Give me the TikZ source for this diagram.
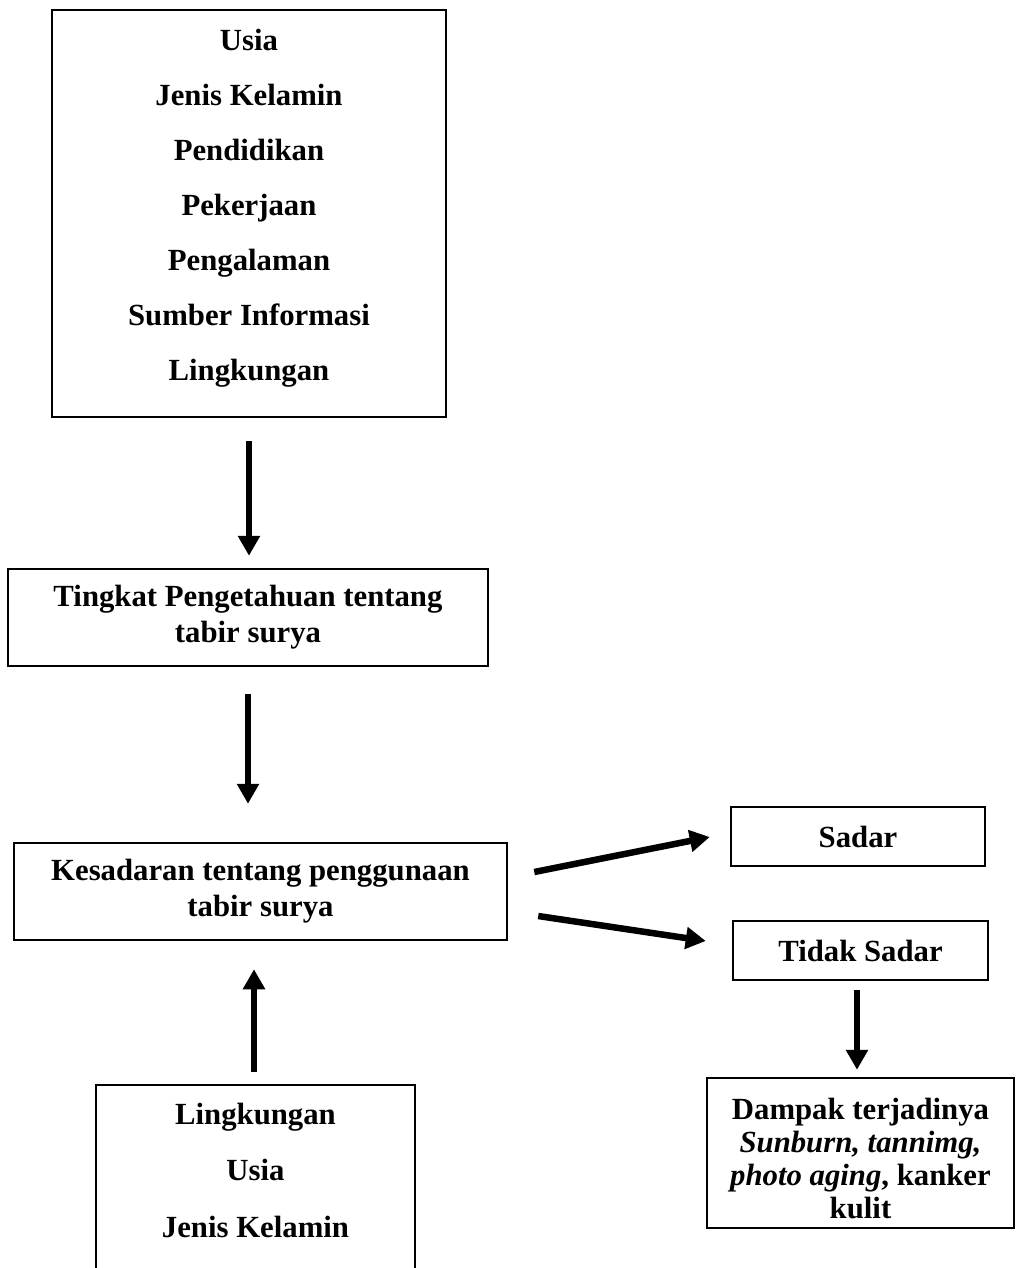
\documentclass[tikz,border=0pt]{standalone}
\usepackage{fontspec}
\setmainfont{Liberation Serif}
\usetikzlibrary{arrows.meta,calc}
\begin{document}
\begin{tikzpicture}[x=0.4pt,y=-0.4pt,
  box/.style={draw, line width=1pt, inner sep=0pt, align=center,
    font=\fontsize{12.3}{14.3}\selectfont\bfseries},
  lbl/.style={inner sep=0pt, align=center, font=\fontsize{12.3}{14}\selectfont\bfseries},
  arr/.style={line width=2.6pt, -{Triangle[length=8pt,width=8.5pt]}}]
\useasboundingbox (0,0) rectangle (1017,1268);
\clip (0,0) rectangle (1017,1268);

% top box
\node[box, minimum width=394*0.4pt, minimum height=407*0.4pt] (b1) at (249,213.5) {};
\node[lbl] (t1) at (249,208) {Usia\\[8pt]Jenis Kelamin\\[8pt]Pendidikan\\[8pt]Pekerjaan\\[8pt]Pengalaman\\[8pt]Sumber Informasi\\[8pt]Lingkungan};

% knowledge box
\node[box, minimum width=480*0.4pt, minimum height=97*0.4pt] (b2) at (248,617.5) {Tingkat Pengetahuan tentang\\tabir surya};

% awareness box
\node[box, minimum width=493*0.4pt, minimum height=97*0.4pt] (b3) at (260.5,891.5) {Kesadaran tentang penggunaan\\tabir surya};

% bottom box (cut off)
\node[box, minimum width=319*0.4pt, minimum height=260*0.4pt] (b4) at (255.5,1215) {};
\node[lbl] (t4) at (255.5,1170) {Lingkungan\\[8.6pt]Usia\\[8.6pt]Jenis Kelamin};

% Sadar / Tidak Sadar
\node[box, minimum width=254*0.4pt, minimum height=59*0.4pt] (s) at (858,836.5) {Sadar};
\node[box, minimum width=255*0.4pt, minimum height=59*0.4pt] (ts) at (860.5,950.5) {Tidak Sadar};

% Dampak
\node[box, minimum width=307*0.4pt, minimum height=150*0.4pt] (d) at (860.5,1153) {};
\node[lbl, font=\fontsize{12.3}{13.2}\selectfont\bfseries] (dt) at (860.5,1159)
  {Dampak terjadinya\\\textit{Sunburn, tannimg,}\\\textit{photo aging}, kanker\\kulit};

% arrows
\draw[arr, shorten <=23*0.4pt, shorten >=12*0.4pt] (b1.south) -- (b1.south |- b2.north);
\draw[arr, shorten <=27*0.4pt, shorten >=38*0.4pt] (b2.south) -- (b2.south |- b3.north);
\draw[arr, shorten <=12*0.4pt, shorten >=28*0.4pt] ([xshift=-0.6pt]b4.north) -- ([xshift=-0.6pt]b4.north |- b3.south);
\draw[arr] ($(b3.east)+(26,-19.5)$) -- ($(s.west)+(-20,0.5)$);
\draw[arr] ($(b3.east)+(30,24.5)$) -- ($(ts.west)+(-26,-9.5)$);
\draw[arr, shorten <=9*0.4pt, shorten >=7*0.4pt] ([xshift=-1.4pt]ts.south) -- ([xshift=-1.4pt]ts.south |- d.north);
\end{tikzpicture}
\end{document}
